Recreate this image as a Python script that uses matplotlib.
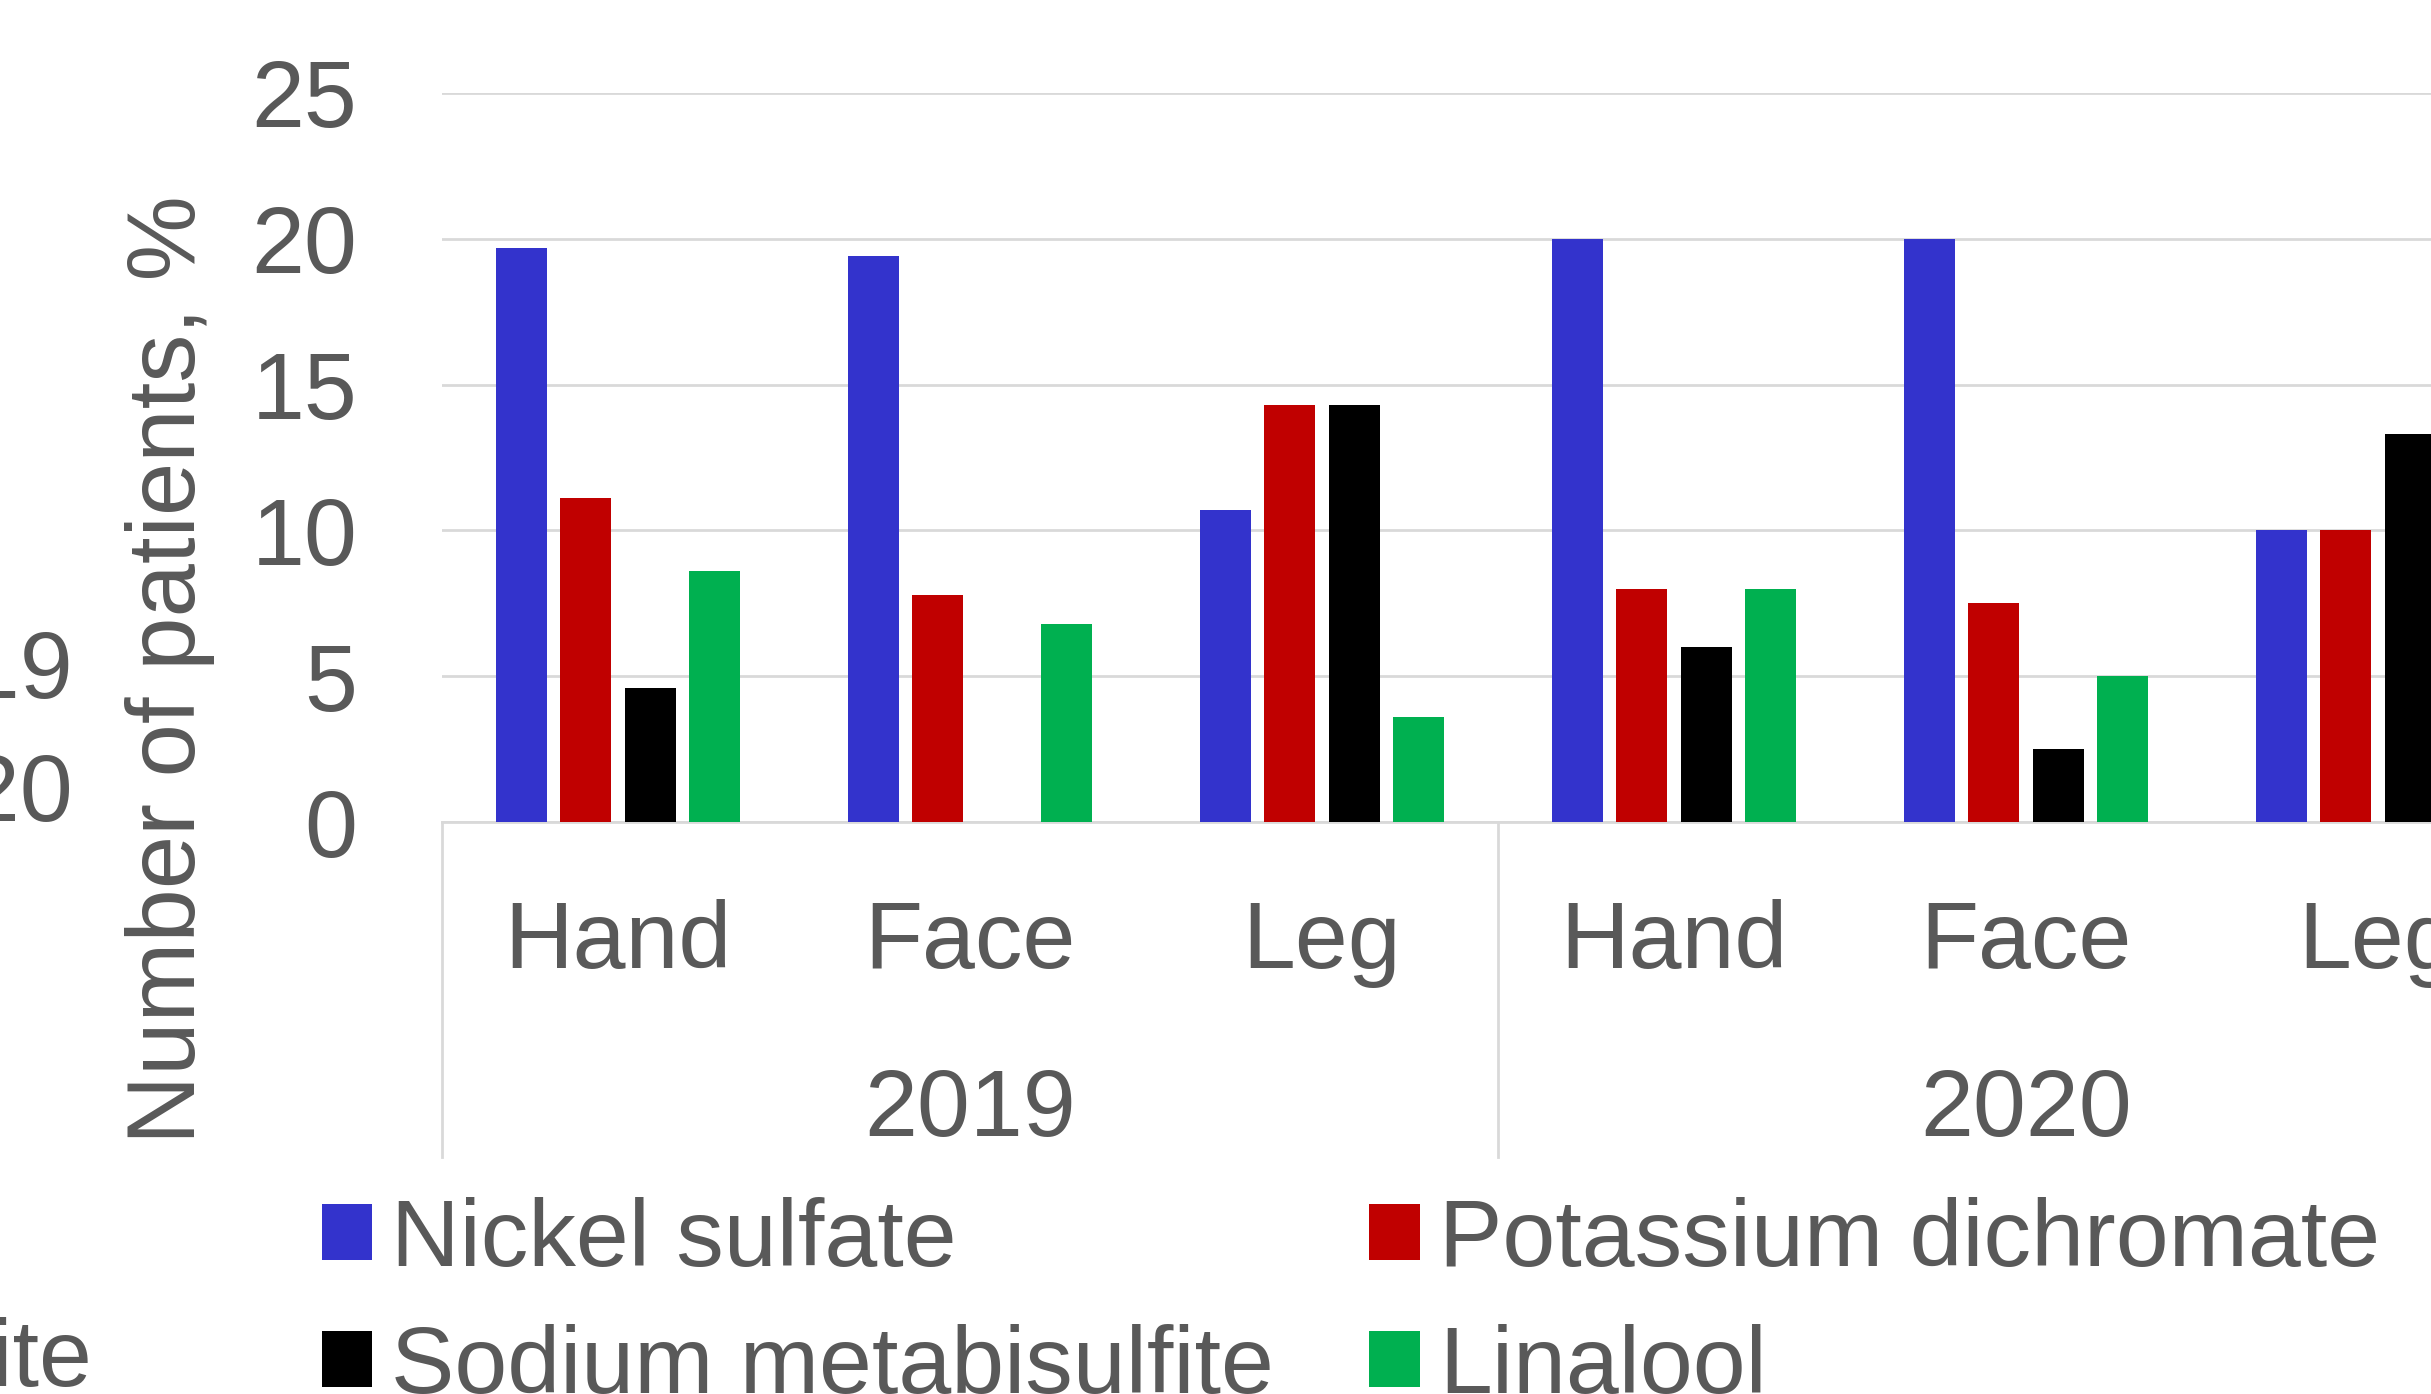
import matplotlib
matplotlib.use('Agg')
import matplotlib.pyplot as plt
import matplotlib.transforms as mtransforms
from matplotlib.lines import Line2D
import numpy as np

plt.rcParams['font.family'] = ['Liberation Sans', 'DejaVu Sans']

# data (percent of patients)
sites = ['Hand', 'Face', 'Leg', 'Hand', 'Face', 'Leg']
years = ['2019', '2020']
series_names = ['Nickel sulfate', 'Potassium dichromate',
                'Sodium metabisulfite', 'Linalool']
nickel_sulfate = [19.7, 19.4, 10.7, 20.0, 20.0, 10.0]
potassium_dichromate = [11.1, 7.8, 14.3, 8.0, 7.5, 10.0]
sodium_metabisulfite = [4.6, 0.0, 14.3, 6.0, 2.5, 13.3]
linalool = [8.6, 6.8, 3.6, 8.0, 5.0, 6.7]
colors = ['#3333CC', '#C00000', '#000000', '#00B050']

TEXT = '#595959'
GRID = '#D9D9D9'
FS = 68.5

W, H = 2431, 1394
fig = plt.figure(figsize=(W / 100, H / 100), dpi=100)
ax = fig.add_axes([442 / W, 572 / H, 2112 / W, 729 / H])

x = np.arange(len(sites))
width = 0.144
pitch = 0.183
all_series = [nickel_sulfate, potassium_dichromate, sodium_metabisulfite, linalool]
handles = []
for i, (vals, col, name) in enumerate(zip(all_series, colors, series_names)):
    b = ax.bar(x + (i - 1.5) * pitch, vals, width, color=col, label=name, zorder=3)
    handles.append(b)

ax.set_xlim(-0.5, len(sites) - 0.5)
ax.set_ylim(0, 25)
ax.set_yticks([0, 5, 10, 15, 20, 25])
ax.tick_params(axis='y', length=0, pad=61, labelsize=FS, labelcolor=TEXT)
ax.set_xticks([])
ax.yaxis.grid(True, color=GRID, lw=2, zorder=0)
ax.set_axisbelow(True)
for s in ['top', 'right', 'left']:
    ax.spines[s].set_visible(False)
ax.spines['bottom'].set_color(GRID)
ax.spines['bottom'].set_linewidth(2)

# two level category axis
trans = mtransforms.blended_transform_factory(ax.transData, fig.transFigure)
for xi, s in zip(x, sites):
    ax.text(xi, 1 - 968 / H, s, transform=trans, ha='center', va='baseline',
            fontsize=FS, color=TEXT)
for k, yr in enumerate(years):
    ax.text(3 * k + 1, 1 - 1136 / H, yr, transform=trans, ha='center',
            va='baseline', fontsize=FS, color=TEXT)
for xs in [-0.5, 2.5, 5.5]:
    ax.add_line(Line2D([xs, xs], [572 / H, 1 - 1157 / H], transform=trans,
                       color=GRID, lw=2, clip_on=False))

fig.text(170 / W, 1 - 670 / H, 'Number of patients, %', rotation=90,
         ha='center', va='center', fontsize=69, color=TEXT)

# legend is filled row by row in the reference
order = [0, 2, 1, 3]
fig.legend(handles=[handles[i] for i in order],
           labels=[series_names[i] for i in order], ncol=2, loc='upper left',
           bbox_to_anchor=(322 / W, 1 - 1197 / H), frameon=False, fontsize=FS,
           labelcolor=TEXT, borderpad=0, borderaxespad=0, handlelength=0.53,
           handleheight=0.53, handletextpad=0.2, columnspacing=1.0,
           labelspacing=0.4)

# pieces of the neighbouring panel cut off at the left edge
fig.text(73 / W, 1 - 698 / H, '2019', ha='right', va='baseline', fontsize=FS, color=TEXT)
fig.text(73 / W, 1 - 821 / H, '2020', ha='right', va='baseline', fontsize=FS, color=TEXT)
fig.text(92 / W, 1 - 1386 / H, 'Sodium metabisulfite', ha='right', va='baseline',
         fontsize=FS, color=TEXT)

fig.savefig('out.png', dpi=100)
